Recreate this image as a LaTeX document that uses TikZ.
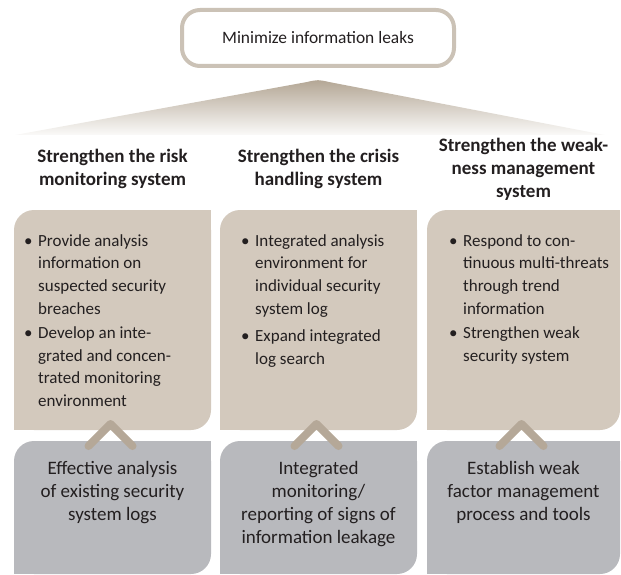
\documentclass[tikz,border=0pt]{standalone}
\usepackage{fontspec}
\setmainfont{Carlito}
\usetikzlibrary{calc}
\definecolor{beige}{HTML}{D3C9BD}
\definecolor{greybox}{HTML}{B8B9BD}
\definecolor{chev}{HTML}{B5A898}
\definecolor{topborder}{HTML}{CBC2B6}
\definecolor{tri}{HTML}{B3A694}
\definecolor{ink}{HTML}{231F20}
\newcommand\bl{\makebox[14pt][l]{\textbullet}}
\newcommand\ind{\hspace*{14pt}}
\newcommand\leafbox[5]{%
  \fill[#5, rounded corners=20pt] (#1,#2) rectangle (#3,#4);
  \fill[#5] (#3-21,#2) rectangle (#3,#2+21);
  \fill[#5] (#1,#4-21) rectangle (#1+21,#4);
}
\tikzset{
  topbox/.style={draw=topborder, line width=4pt, fill=white, rounded corners=18pt,
    minimum width=272pt, minimum height=56pt, inner sep=0pt, text=ink,
    font=\fontsize{17.4}{21}\selectfont},
  heading/.style={anchor=north, align=center, inner sep=0pt, text=ink,
    font=\fontsize{19}{23}\selectfont\bfseries},
  items/.style={anchor=north west, align=left, inner sep=0pt, text=ink,
    font=\fontsize{17}{22.7}\selectfont},
  basis/.style={anchor=north, align=center, inner sep=0pt, text=ink,
    font=\fontsize{19}{23}\selectfont},
  chevron/.style={draw=chev, line width=8pt, line cap=round, line join=round}
}
\begin{document}
\begin{tikzpicture}[x=1pt,y=-1pt]
\useasboundingbox (0,0) rectangle (621,575);
% top goal
\node[topbox] (top) at (318,38) {Minimize information leaks};
% triangle
\shade[top color=tri, bottom color=white!94!tri]
  (15,135) -- (306,82.2) .. controls (318,79.5) .. (330,82.2) -- (605,135) -- cycle;
% headings
\node[heading] (h1) at (112.5,146.4) {\strut Strengthen the risk\\monitoring system};
\node[heading] (h2) at (318.5,146.4) {\strut Strengthen the crisis\\handling system};
\node[heading] (h3) at (523.5,135.4) {\strut Strengthen the weak-\\ness management\\system};
% beige boxes
\leafbox{14}{210}{211}{430}{beige}
\leafbox{220}{210}{417}{430}{beige}
\leafbox{427}{210}{620}{430}{beige}
% grey boxes
\leafbox{14}{441}{211}{574}{greybox}
\leafbox{220}{441}{417}{574}{greybox}
\leafbox{427}{441}{620}{574}{greybox}
% chevrons
\coordinate (c1) at (110.5,424);
\coordinate (c2) at (316.5,424);
\coordinate (c3) at (521.5,424);
\draw[chevron] ($(c1)+(-22,22)$) -- (c1) -- ($(c1)+(22,22)$);
\draw[chevron] ($(c2)+(-22,22)$) -- (c2) -- ($(c2)+(22,22)$);
\draw[chevron] ($(c3)+(-22,22)$) -- (c3) -- ($(c3)+(22,22)$);
% items
\node[items] (i1) at (24,230.1) {\strut\bl Provide analysis\\ \ind information on\\ \ind suspected security\\ \ind breaches\\[1.5pt] \bl Develop an inte-\\ \ind grated and concen-\\ \ind trated monitoring\\ \ind environment};
\node[items] (i2) at (241,230.1) {\strut\bl Integrated analysis\\ \ind environment for\\ \ind individual security\\ \ind system log\\[5pt] \bl Expand integrated\\ \ind log search};
\node[items] (i3) at (449,230.1) {\strut\bl Respond to con-\\ \ind tinuous multi-threats\\ \ind through trend\\ \ind information\\[2pt] \bl Strengthen weak\\ \ind security system};
% basis texts
\node[basis] (g1) at (112.5,458.4) {\strut Effective analysis\\of existing security\\system logs};
\node[basis] (g2) at (318.5,458.4) {\strut Integrated\\monitoring/\\reporting of signs of\\information leakage};
\node[basis] (g3) at (523.5,458.4) {\strut Establish weak\\factor management\\process and tools};
\end{tikzpicture}
\end{document}
